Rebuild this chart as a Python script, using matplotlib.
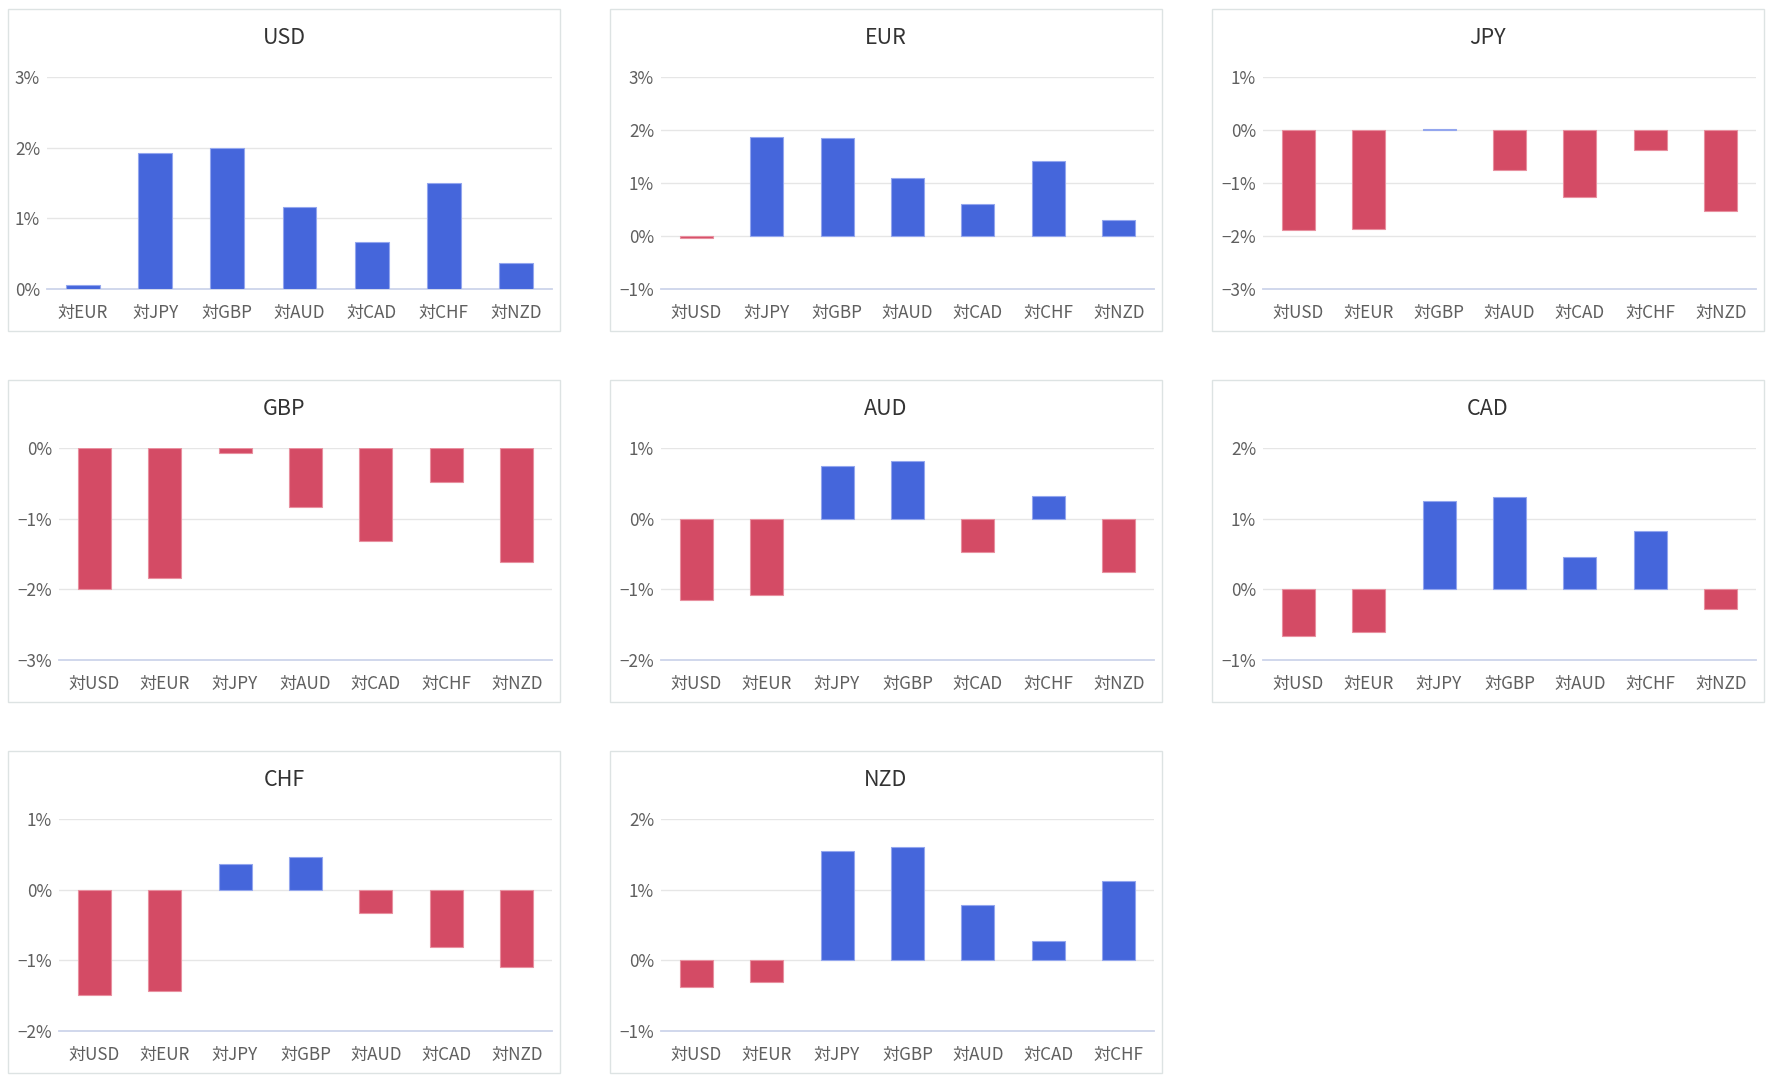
import matplotlib
matplotlib.use("Agg")
import matplotlib.pyplot as plt
from matplotlib.patches import Rectangle
from matplotlib.ticker import FixedLocator, FuncFormatter

plt.rcParams['font.family'] = ['Noto Sans CJK JP', 'DejaVu Sans']

currencies = ["USD", "EUR", "JPY", "GBP", "AUD", "CAD", "CHF", "NZD"]

usd_vals = [0.05, 1.93, 2.00, 1.16, 0.66, 1.50, 0.37]     # vs EUR JPY GBP AUD CAD CHF NZD
eur_vals = [-0.03, 1.87, 1.84, 1.09, 0.61, 1.42, 0.31]    # vs USD JPY GBP AUD CAD CHF NZD
jpy_vals = [-1.89, -1.86, 0.02, -0.75, -1.26, -0.38, -1.53]  # vs USD EUR GBP AUD CAD CHF NZD
gbp_vals = [-1.99, -1.84, -0.07, -0.84, -1.31, -0.48, -1.61]  # vs USD EUR JPY AUD CAD CHF NZD
aud_vals = [-1.15, -1.08, 0.75, 0.82, -0.47, 0.32, -0.76]   # vs USD EUR JPY GBP CAD CHF NZD
cad_vals = [-0.66, -0.60, 1.25, 1.31, 0.46, 0.82, -0.28]    # vs USD EUR JPY GBP AUD CHF NZD
chf_vals = [-1.49, -1.44, 0.37, 0.46, -0.33, -0.81, -1.10]  # vs USD EUR JPY GBP AUD CAD NZD
nzd_vals = [-0.38, -0.31, 1.55, 1.61, 0.78, 0.28, 1.12]     # vs USD EUR JPY GBP AUD CAD CHF

values = {"USD": usd_vals, "EUR": eur_vals, "JPY": jpy_vals, "GBP": gbp_vals,
          "AUD": aud_vals, "CAD": cad_vals, "CHF": chf_vals, "NZD": nzd_vals}

y_ranges = {"USD": (0, 3), "EUR": (-1, 3), "JPY": (-3, 1), "GBP": (-3, 0),
            "AUD": (-2, 1), "CAD": (-1, 2), "CHF": (-2, 1), "NZD": (-1, 2)}

W, H = 1778, 1084
fig = plt.figure(figsize=(W / 100, H / 100), dpi=100)
fig.patch.set_facecolor("white")

panel_x = [8, 610, 1212]
panel_y = [9, 380, 751]
panel_w, panel_h = 552, 322

BLUE, BLUE_EDGE = "#4566DB", "#93A6EE"
RED, RED_EDGE = "#D44B65", "#E8909F"
GRID = "#E6E6E6"
AXIS = "#CDD4EA"
TICK_COLOR = "#5F5F5F"
TITLE_COLOR = "#333333"


def fmt(v, pos=None):
    v = int(round(v))
    return f"\u2212{abs(v)}%" if v < 0 else f"{v}%"


for i, cur in enumerate(currencies):
    r, c = divmod(i, 3)
    px, py = panel_x[c], panel_y[r]
    ymin, ymax = y_ranges[cur]
    left_off = 51 if ymin < 0 else 39
    ax_left = px + left_off
    ax_right = px + panel_w - 8
    ax_top = py + 68
    ax_bot = py + 280

    # panel border
    fig.patches.append(Rectangle((px / W, 1 - (py + panel_h) / H), panel_w / W, panel_h / H,
                                 transform=fig.transFigure, fill=False,
                                 edgecolor="#DDE3E3", linewidth=1.0))

    ax = fig.add_axes([ax_left / W, 1 - ax_bot / H, (ax_right - ax_left) / W, (ax_bot - ax_top) / H])
    cats = ["対" + o for o in currencies if o != cur]
    vals = values[cur]
    xs = list(range(len(cats)))
    colors = [BLUE if v >= 0 else RED for v in vals]
    edges = [BLUE_EDGE if v >= 0 else RED_EDGE for v in vals]
    ax.bar(xs, vals, width=0.47, color=colors, edgecolor=edges, linewidth=0.8, zorder=3)

    ax.set_xlim(-0.5, len(cats) - 0.5)
    ax.set_ylim(ymin, ymax)
    ticks = list(range(ymin, ymax + 1))
    ax.yaxis.set_major_locator(FixedLocator(ticks))
    ax.yaxis.set_major_formatter(FuncFormatter(fmt))
    for t in ticks:
        if t == ymin:
            ax.axhline(t, color=AXIS, linewidth=1.3, zorder=2, clip_on=False)
        else:
            ax.axhline(t, color=GRID, linewidth=1.0, zorder=1)
    ax.set_xticks(xs)
    ax.set_xticklabels(cats)
    for s in ax.spines.values():
        s.set_visible(False)
    ax.tick_params(axis="both", length=0, labelsize=12.3, colors=TICK_COLOR)
    ax.tick_params(axis="y", pad=5)
    ax.tick_params(axis="x", pad=11)
    ax.set_facecolor("none")

    fig.text((px + panel_w / 2) / W, 1 - (py + 29) / H, cur, ha="center", va="center",
             fontsize=15.5, color=TITLE_COLOR)

fig.savefig("out.png", dpi=100, facecolor="white")
